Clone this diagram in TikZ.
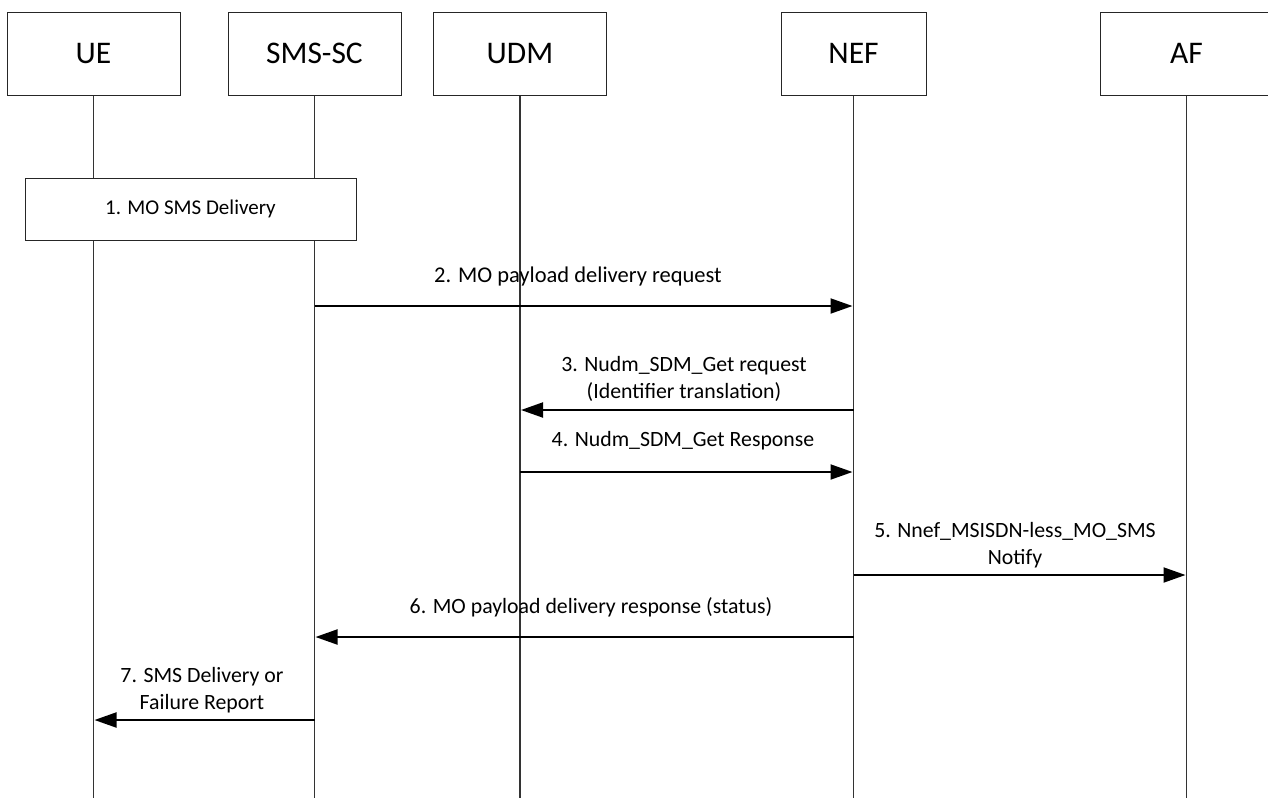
\documentclass[tikz,border=0pt]{standalone}
\usepackage{fontspec}
\setmainfont{Carlito}
\usetikzlibrary{arrows.meta}
\begin{document}
\begin{tikzpicture}[x=1pt,y=-1pt,
  actor/.style={draw=black!85,line width=1pt,minimum width=173pt,minimum height=83pt,inner sep=0pt,font=\fontsize{31.5}{36}\selectfont},
  stepbox/.style={draw=black!85,fill=white,line width=1pt,minimum width=331pt,minimum height=62pt,inner sep=0pt,font=\fontsize{21}{24}\selectfont},
  life/.style={draw=black!80,line width=1.2pt},
  msg/.style={draw=black,line width=2pt,-{Triangle[length=22pt,width=15pt]},shorten >=1pt},
  lbl/.style={align=center,inner sep=0pt,font=\fontsize{21.8}{27}\selectfont}]
\useasboundingbox (0,0) rectangle (1268,798);
% actors
\node[actor] (ue)  at (93.5,53.5) {UE};
\node[actor] (sc)  at (314.5,53.5) {SMS-SC};
\node[actor] (udm) at (520,53.5) {UDM};
\node[actor,minimum width=145pt] (nef) at (853.5,53.5) {NEF};
\node[actor] (af)  at (1186.5,53.5) {AF};
% lifeline ends
\coordinate (ueE)  at (ue.south |- 0,798);
\coordinate (scE)  at (sc.south |- 0,798);
\coordinate (udmE) at (udm.south |- 0,798);
\coordinate (nefE) at (nef.south |- 0,798);
\coordinate (afE)  at (af.south |- 0,798);
\draw[life] (ue.south) -- (ueE);
\draw[life] (sc.south) -- (scE);
\draw[life] (udm.south) -- (udmE);
\draw[life] (nef.south) -- (nefE);
\draw[life] (af.south) -- (afE);
% step 1
\node[stepbox] (s1) at (190.5,209) {1. MO SMS Delivery};
% step 2
\draw[msg] (sc |- 0,306) -- (nef |- 0,306);
\node[lbl,font=\fontsize{22.5}{27}\selectfont] (l2) at (578,276) {2. MO payload delivery request};
% step 3
\draw[msg] (nef |- 0,410) -- (udm |- 0,410);
\node[lbl] (l3) at (684,379) {3. Nudm\_SDM\_Get request\\(Identifier translation)};
% step 4
\draw[msg] (udm |- 0,472) -- (nef |- 0,472);
\node[lbl] (l4) at (683,441) {4. Nudm\_SDM\_Get Response};
% step 5
\draw[msg] (nef |- 0,575) -- (af |- 0,575);
\node[lbl] (l5) at (1015,545) {5. Nnef\_MSISDN-less\_MO\_SMS\\Notify};
% step 6
\draw[msg] (nef |- 0,637) -- (sc |- 0,637);
\node[lbl] (l6) at (591,607) {6. MO payload delivery response (status)};
% step 7
\draw[msg] (sc |- 0,720) -- (ue |- 0,720);
\node[lbl] (l7) at (202,690) {7. SMS Delivery or\\Failure Report};
\end{tikzpicture}
\end{document}
